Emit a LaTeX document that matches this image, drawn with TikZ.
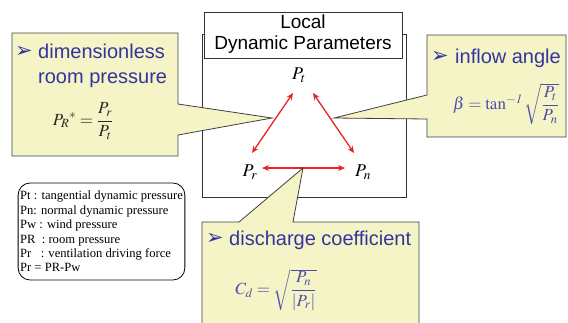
\documentclass[tikz,border=0pt]{standalone}
\usepackage{amsmath}
\usepackage{mathptmx}
\usepackage{fontspec}
\setmainfont{Liberation Serif}
\newfontfamily\uisans{Liberation Sans}
\newfontfamily\bulletfont{DejaVu Sans}
\usetikzlibrary{arrows.meta, calc}

\definecolor{balloonfill}{RGB}{244,244,198}
\definecolor{textblue}{RGB}{52,52,160}
\definecolor{mathblue}{RGB}{78,78,170}
\definecolor{arrowred}{RGB}{232,36,36}

\begin{document}
\begin{tikzpicture}[x=1pt, y=-1pt,
    panel/.style={draw=black!80, fill=white, line width=0.8pt},
    heading/.style={draw=black!80, fill=white, line width=0.8pt, font=\uisans\fontsize{19}{21}\selectfont, inner sep=0pt, minimum width=198pt, minimum height=46pt},
    param/.style={font=\fontsize{18}{18}\selectfont, inner sep=2pt},
    arrow/.style={{Stealth[length=7pt,width=6pt]}-{Stealth[length=7pt,width=6pt]}, draw=arrowred, line width=1.3pt},
    balloon/.style={draw=black!75, fill=balloonfill, line width=0.8pt},
    tick/.style={font=\bulletfont\fontsize{21}{21}\selectfont, text=textblue, inner sep=0pt},
    item/.style={font=\uisans\fontsize{20}{25}\selectfont, text=textblue, align=left, anchor=base west, inner sep=0pt},
    formula/.style={font=\fontsize{17}{17}\selectfont, inner sep=0pt},
    legend/.style={draw=black, rounded corners=12pt, line width=0.8pt, font=\fontsize{12.6}{14.4}\selectfont, align=left, inner xsep=2pt, inner ysep=4pt, minimum width=165pt, minimum height=97pt}
]
    \useasboundingbox (0,0) rectangle (568,322);
    \clip (0,0) rectangle (568,322);

    % Local parameter box
    \node (frame) [panel, minimum width=204pt, minimum height=163pt, inner sep=0pt] at (304,115.5) {};
    \node (title) [heading] at (303,35) {\raisebox{-2pt}{\begin{tabular}{@{}c@{}}Local\\Dynamic Parameters\end{tabular}}};

    \node (pt) [param] at (299,75) {$P_t$};
    \node (pr) [param] at (250,172) {$P_r$};
    \node (pn) [param] at (363,172) {$P_n$};

    \draw [arrow] ($(pr)+(2,-19)$) -- ($(pt)+(-6,18)$);
    \draw [arrow] ($(pt)+(14,18)$) -- ($(pn)+(-9,-19)$);
    \draw [arrow] ($(pr)+(12,-4)$) -- ($(pn)+(-18,-4)$);

    % Callouts
    \draw [balloon] (12,33) -- (178,33) -- (178,104) -- (272,118) -- (178,135) -- (178,156) -- (12,156) -- cycle;
    \draw [balloon] (427,35) -- (566,35) -- (566,137) -- (427,137) -- (427,119) -- (334,118) -- (427,95) -- cycle;
    \draw [balloon] (202,222) -- (239,222) -- (303,168) -- (293,222) -- (419,222) -- (419,330) -- (202,330) -- cycle;

    \node (roomtick) [tick] at (24,52) {➢};
    \node (roomhead) [item] at (38,83) {dimensionless\\room pressure};
    \node (roomeq) [formula, text=black!85] at (83,121) {$P_{R}{}^{*} = \dfrac{P_r}{P_t}$};

    \node (angletick) [tick] at (440,57) {➢};
    \node (anglehead) [item] at (455,63) {inflow angle};
    \node (angleeq) [formula, text=mathblue] at (506,104) {$\beta = \tan^{\mathit{-1}}\sqrt{\dfrac{P_t}{P_n}}$};

    \node (dischtick) [tick] at (215,239) {➢};
    \node (dischhead) [item] at (229,245) {discharge coefficient};
    \node (discheq) [formula, text=mathblue] at (276,290) {$C_d = \sqrt{\dfrac{P_n}{\lvert P_r\rvert}}$};

    % Symbols
    \node (legend) [legend] at (101.5,231.5) {Pt : tangential dynamic pressure\\Pn: normal dynamic pressure\\Pw : wind pressure\\PR\ \ : room pressure\\Pr\ \ \ : ventilation driving force\\Pr = PR-Pw};
\end{tikzpicture}
\end{document}
